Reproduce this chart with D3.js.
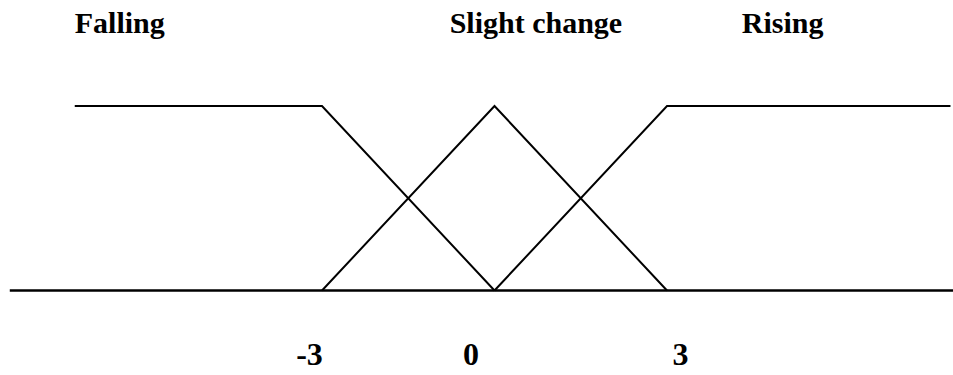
<!DOCTYPE html>
<html>
<head>
<meta charset="utf-8">
<script src="https://cdn.jsdelivr.net/npm/d3@7"></script>
<style>
  body { margin: 0; background: #fff; }
  svg { display: block; }
  text { font-family: "Liberation Serif", "Times New Roman", serif; font-weight: bold; fill: #000; }
</style>
</head>
<body>
<svg width="953" height="375"></svg>
<script>
  // membership function names and their label anchors (x in data units)
  var setNames = ["Falling", "Slight change", "Rising"];
  var nameAt = [-7.3, -0.78, 4.3];

  // each set as [x, membership] corner points
  var falling = [[-7.3, 1], [-3, 1], [0, 0]];
  var slight = [[-3, 0], [0, 1], [3, 0]];
  var rising = [[0, 0], [3, 1], [7.93, 1]];
  var axisLine = [[-8.43, 0], [8, 0]];

  var tickValues = [-3, 0, 3];

  var svg = d3.select("svg"),
      width = +svg.attr("width"),
      height = +svg.attr("height");

  var x = d3.scaleLinear().domain([-3, 3]).range([322, 667]);
  var y = d3.scaleLinear().domain([0, 1]).range([290.5, 106]);

  var line = d3.line()
      .x(function (d) { return x(d[0]); })
      .y(function (d) { return y(d[1]); });

  // base line
  svg.append("path")
      .datum(axisLine)
      .attr("d", line)
      .attr("fill", "none")
      .attr("stroke", "#000")
      .attr("stroke-width", 2.6);

  svg.append("g")
      .selectAll("path")
      .data([falling, slight, rising])
      .enter()
      .append("path")
      .attr("d", line)
      .attr("fill", "none")
      .attr("stroke", "#000")
      .attr("stroke-width", 2)
      .attr("stroke-linejoin", "miter");

  // set names on top
  svg.append("g")
      .selectAll("text")
      .data(setNames)
      .enter()
      .append("text")
      .attr("x", function (d, i) { return x(nameAt[i]); })
      .attr("y", 33)
      .attr("font-size", 30)
      .text(function (d) { return d; });

  // tick labels, a bit off the corners like the original
  var tickDx = [-13, -24, 13];
  var xAxis = d3.axisBottom(x).tickValues(tickValues).tickSize(0).tickPadding(0)
      .tickFormat(function (d) { return d; });
  var gx = svg.append("g")
      .attr("transform", "translate(0,342)")
      .call(xAxis);
  gx.select(".domain").remove();
  gx.selectAll("text")
      .attr("dx", function (d, i) { return tickDx[i]; })
      .attr("dy", 23)
      .attr("font-size", 32)
      .attr("font-family", "Liberation Serif, Times New Roman, serif")
      .attr("font-weight", "bold")
      .attr("fill", "#000");
</script>
</body>
</html>
